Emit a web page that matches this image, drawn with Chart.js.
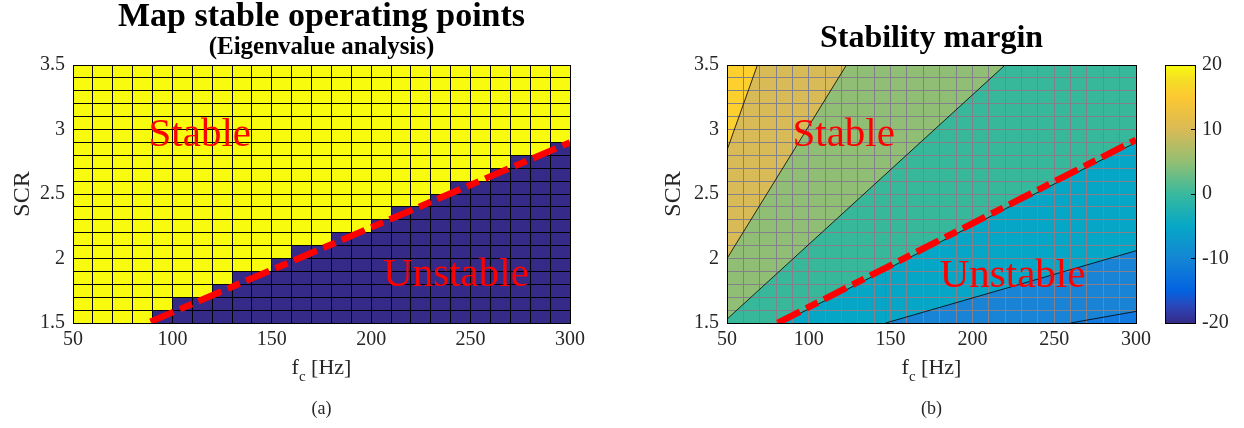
<!DOCTYPE html>
<html lang="en">
<head>
<meta charset="UTF-8" />
<title>Stable operating points and stability margin</title>
<script src="https://cdn.jsdelivr.net/npm/chart.js@4.4.0"></script>
<style>
  * { margin: 0; padding: 0; box-sizing: border-box; }
  body { width: 1244px; height: 428px; background: #fff; overflow: hidden; position: relative; }
  canvas { position: absolute; top: 0; }
  #mapChart { left: 0; }
  #marginChart { left: 640px; }
  #colorbar { left: 1150px; }
</style>
</head>
<body>
<canvas id="mapChart" width="643" height="428"></canvas>
<canvas id="marginChart" width="583" height="428"></canvas>
<canvas id="colorbar" width="94" height="428"></canvas>

<script>
// ---- values ----
// (a) eigenvalue map: left edge of each 10 Hz column, and the SCR up to which that column is unstable
const fcCells     = [50, 60, 70, 80, 90, 100, 110, 120, 130, 140, 150, 160, 170, 180, 190, 200, 210, 220, 230, 240, 250, 260, 270, 280, 290];
const unstableTop = [1.5, 1.5, 1.5, 1.5, 1.6, 1.7, 1.7, 1.8, 1.9, 1.9, 2.0, 2.1, 2.1, 2.2, 2.2, 2.3, 2.4, 2.4, 2.5, 2.6, 2.6, 2.7, 2.8, 2.8, 2.9];
// fitted stability boundary (red dash-dot)
const boundaryFcA  = [89, 300];
const boundaryScrA = [1.51, 2.90];
const boundaryFcB  = [81, 300];
const boundaryScrB = [1.50, 2.92];

// (b) stability margin contours (fc, SCR along each iso-line), highest level first
const contourLevels = [15, 10, 5, 0, -5, -10, -15];
const contourFc  = [[50, 68.6], [50, 123], [50, 220], [50, 83, 300], [50, 147, 300], [50, 260, 300], [50, 300]];
const contourScr = [[2.84, 3.5], [2.0, 3.5], [1.53, 3.5], [1.5, 1.5, 2.9], [1.5, 1.5, 2.06], [1.5, 1.5, 1.59], [1.5, 1.5]];

// axes
const FC_MIN = 50, FC_MAX = 300;
const SCR_MIN = 1.5, SCR_MAX = 3.5;
const CBAR_MIN = -20, CBAR_MAX = 20;

// ---- styling ----
const SERIF = "'Liberation Serif', 'Times New Roman', serif";
const INK = '#262626';
const YELLOW = '#f9fb0e';
const NAVY = '#352a87';
const RED = '#ff0000';
const bandColors = ['#fdd02e', '#d8ba57', '#90be74', '#37b89b', '#06a6c6', '#1984d6', '#1279df'];
const parulaStops = [
  [0.000, '#352a87'], [0.063, '#2c45b8'], [0.125, '#0363e1'], [0.250, '#1485d4'],
  [0.375, '#06a7c6'], [0.500, '#38b99e'], [0.625, '#92bf73'], [0.750, '#d9ba56'],
  [0.875, '#fcc832'], [0.940, '#f5dd25'], [1.000, '#f9fb0e']
];
const dashDot = [25, 7, 13, 7];

const isStep = (v, step) => Math.abs(v / step - Math.round(v / step)) < 1e-6;
const al = p => Math.round(p - 0.5) + 0.5;

// box round the plot area
const frame = {
  id: 'frame',
  afterDraw(chart) {
    const { ctx, chartArea: a } = chart;
    ctx.save();
    ctx.strokeStyle = '#000';
    ctx.lineWidth = 1;
    ctx.strokeRect(al(a.left), al(a.top), al(a.right) - al(a.left), al(a.bottom) - al(a.top));
    ctx.restore();
  }
};

// small inward tick marks on the right edge (colour bar)
const innerTicks = {
  id: 'innerTicks',
  afterDraw(chart) {
    const { ctx, chartArea: a, scales: { y } } = chart;
    ctx.save();
    ctx.strokeStyle = '#000';
    ctx.lineWidth = 1;
    y.ticks.forEach(t => {
      const py = al(y.getPixelForValue(t.value));
      ctx.beginPath();
      ctx.moveTo(a.right, py);
      ctx.lineTo(a.right - 4, py);
      ctx.stroke();
    });
    ctx.restore();
  }
};

// "Stable" / "Unstable" annotations, placed in data units
const regionText = {
  id: 'regionText',
  afterDatasetsDraw(chart, args, opts) {
    const { ctx, scales: { x, y } } = chart;
    ctx.save();
    ctx.font = `41px ${SERIF}`;
    ctx.fillStyle = RED;
    ctx.textAlign = 'left';
    ctx.textBaseline = 'alphabetic';
    opts.items.forEach(t => ctx.fillText(t.text, x.getPixelForValue(t.fc), y.getPixelForValue(t.scr)));
    ctx.restore();
  }
};

// x label with subscript, plus panel caption
const axisCaption = {
  id: 'axisCaption',
  afterDraw(chart, args, opts) {
    const { ctx, chartArea: a } = chart;
    const cx = (a.left + a.right) / 2;
    const big = `22px ${SERIF}`, small = `15px ${SERIF}`;
    ctx.save();
    ctx.fillStyle = INK;
    ctx.textBaseline = 'alphabetic';
    ctx.textAlign = 'left';
    ctx.font = big;
    const wf = ctx.measureText('f').width;
    const wh = ctx.measureText(' [Hz]').width;
    ctx.font = small;
    const wc = ctx.measureText('c').width;
    let px = cx - (wf + wc + wh) / 2;
    const base = a.bottom + 51;
    ctx.font = big;   ctx.fillText('f', px, base); px += wf;
    ctx.font = small; ctx.fillText('c', px, base + 7); px += wc;
    ctx.font = big;   ctx.fillText(' [Hz]', px, base);
    ctx.font = `18px ${SERIF}`;
    ctx.textAlign = 'center';
    ctx.fillText(opts.caption, cx, a.bottom + 91);
    ctx.restore();
  }
};

// left axis width and an empty right-hand box of the same width, so the title centres over the plot
function gridScales(sideWidth, gridColor, yTitlePad) {
  return {
    x: {
      type: 'linear', min: FC_MIN, max: FC_MAX,
      afterFit: s => { s.height = 105; },
      ticks: {
        stepSize: 10, autoSkip: false, maxRotation: 0, padding: 5,
        font: { family: SERIF, size: 20 }, color: INK,
        callback: v => isStep(v, 50) ? v : ''
      },
      grid: { color: gridColor, lineWidth: 1, drawTicks: false },
      border: { display: false }
    },
    y: {
      type: 'linear', min: SCR_MIN, max: SCR_MAX,
      afterFit: s => { s.width = sideWidth; },
      ticks: {
        stepSize: 0.1, autoSkip: false, padding: 8,
        font: { family: SERIF, size: 20 }, color: INK,
        callback: v => isStep(v, 0.5) ? v : ''
      },
      grid: { color: gridColor, lineWidth: 1, drawTicks: false },
      border: { display: false },
      title: {
        display: true, text: 'SCR', color: INK,
        font: { family: SERIF, size: 24, lineHeight: 1.2 },
        padding: { top: yTitlePad, bottom: 0 }
      }
    },
    ySpacer: {
      type: 'linear', position: 'right', min: SCR_MIN, max: SCR_MAX,
      afterFit: s => { s.width = sideWidth; },
      ticks: { display: false },
      grid: { display: false, drawTicks: false },
      border: { display: false }
    }
  };
}

const pts = (xs, ys) => xs.map((x, i) => ({ x, y: ys[i] }));

// ---- (a) map of stable operating points ----
const stair = pts(fcCells, unstableTop);
stair.push({ x: FC_MAX, y: unstableTop[unstableTop.length - 1] });

new Chart(document.getElementById('mapChart'), {
  type: 'line',
  data: {
    datasets: [
      { label: 'boundary', data: pts(boundaryFcA, boundaryScrA), borderColor: RED, borderWidth: 6.5,
        borderDash: dashDot, pointRadius: 0, fill: false },
      { label: 'stable', data: stair, stepped: 'before', borderWidth: 0, pointRadius: 0,
        fill: 'end', backgroundColor: YELLOW },
      { label: 'unstable', data: stair, stepped: 'before', borderWidth: 0, pointRadius: 0,
        fill: 'start', backgroundColor: NAVY }
    ]
  },
  options: {
    responsive: false, animation: false, events: [],
    layout: { padding: 0 },
    plugins: {
      legend: { display: false }, tooltip: { enabled: false },
      filler: { drawTime: 'beforeDraw' },
      title: { display: true, text: 'Map stable operating points', color: '#000',
        font: { family: SERIF, size: 34, weight: 'bold', lineHeight: 1 }, padding: { top: 0, bottom: 1 } },
      subtitle: { display: true, text: '(Eigenvalue analysis)', color: '#000',
        font: { family: SERIF, size: 25, weight: 'bold', lineHeight: 1 }, padding: { top: 0, bottom: 5 } },
      regionText: { items: [{ text: 'Stable', fc: 88, scr: 2.87 }, { text: 'Unstable', fc: 206, scr: 1.79 }] },
      axisCaption: { caption: '(a)' }
    },
    scales: gridScales(73, '#000', 8)
  },
  plugins: [regionText, axisCaption, frame]
});

// ---- (b) stability margin ----
const bandSets = contourLevels.map((lvl, i) => ({
  label: 'level ' + lvl,
  data: pts(contourFc[i], contourScr[i]),
  borderColor: '#000',
  borderWidth: i === contourLevels.length - 1 ? 0 : 0.8,
  pointRadius: 0,
  fill: 'end',
  backgroundColor: bandColors[i],
  segment: {
    borderColor: c => (c.p0.parsed.y <= SCR_MIN && c.p1.parsed.y <= SCR_MIN) ? 'rgba(0,0,0,0)' : undefined
  }
}));

new Chart(document.getElementById('marginChart'), {
  type: 'line',
  data: {
    datasets: [
      { label: 'boundary', data: pts(boundaryFcB, boundaryScrB), borderColor: RED, borderWidth: 6.5,
        borderDash: dashDot, pointRadius: 0, fill: false },
      ...bandSets
    ]
  },
  options: {
    responsive: false, animation: false, events: [],
    layout: { padding: 0 },
    plugins: {
      legend: { display: false }, tooltip: { enabled: false },
      filler: { drawTime: 'beforeDraw' },
      title: { display: true, text: 'Stability margin', color: '#000',
        font: { family: SERIF, size: 32, weight: 'bold', lineHeight: 1 }, padding: { top: 23, bottom: 10 } },
      regionText: { items: [{ text: 'Stable', fc: 90, scr: 2.87 }, { text: 'Unstable', fc: 180, scr: 1.78 }] },
      axisCaption: { caption: '(b)' }
    },
    scales: gridScales(87, '#84808a', 19)
  },
  plugins: [regionText, axisCaption, frame]
});

// ---- colour bar ----
function parulaGradient(chart) {
  const a = chart.chartArea;
  if (!a) return NAVY;
  const g = chart.ctx.createLinearGradient(0, a.bottom, 0, a.top);
  parulaStops.forEach(([t, c]) => g.addColorStop(t, c));
  return g;
}

new Chart(document.getElementById('colorbar'), {
  type: 'bar',
  data: {
    labels: ['margin'],
    datasets: [{ data: [[CBAR_MIN, CBAR_MAX]], backgroundColor: c => parulaGradient(c.chart),
      borderWidth: 0, barPercentage: 1, categoryPercentage: 1 }]
  },
  options: {
    responsive: false, animation: false, events: [],
    layout: { padding: { left: 15, right: 0, top: 65, bottom: 105 } },
    plugins: { legend: { display: false }, tooltip: { enabled: false } },
    scales: {
      x: { display: false },
      y: {
        position: 'right', min: CBAR_MIN, max: CBAR_MAX,
        afterFit: s => { s.width = 49; },
        ticks: { stepSize: 10, padding: 7, font: { family: SERIF, size: 20 }, color: INK },
        grid: { display: false, drawTicks: false },
        border: { display: false }
      }
    }
  },
  plugins: [innerTicks, frame]
});
</script>
</body>
</html>
